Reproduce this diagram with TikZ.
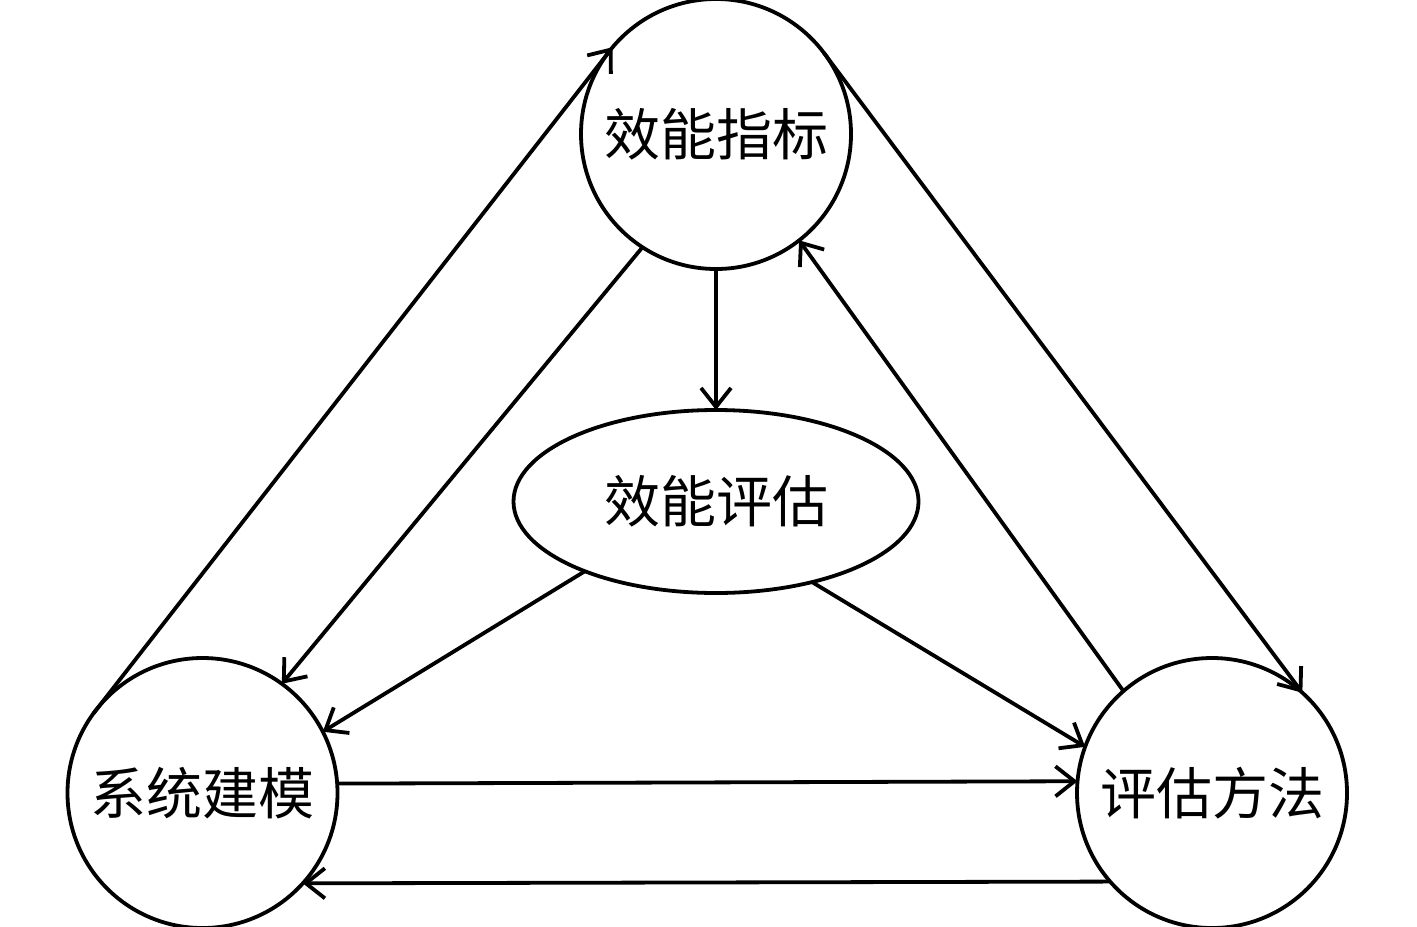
\documentclass[tikz,border=0pt]{standalone}
\usepackage{fontspec}
\newfontfamily\cjk{Noto Sans CJK SC}
\usetikzlibrary{shapes.geometric,arrows.meta}
\begin{document}
\begin{tikzpicture}[x=0.5pt,y=-0.5pt,
  every node/.style={font=\cjk\fontsize{28}{30}\selectfont},
  bubble/.style={circle,draw,line width=1.9pt,inner sep=0pt,outer sep=0pt,minimum size=135pt},
  oval/.style={ellipse,draw,line width=1.9pt,inner sep=0pt,outer sep=0pt,minimum width=202.5pt,minimum height=91.5pt},
  link/.style={line width=1.9pt,-{Straight Barb[length=9.5pt,width=15pt,line width=1.9pt]}}]
\useasboundingbox (0,0) rectangle (1417,926);
\node[bubble] (T) at (716,134) {效能指标};
\node[bubble] (L) at (202.5,793) {系统建模};
\node[bubble] (R) at (1212,793) {评估方法};
\node[oval] (E) at (716,501.5) {效能评估};
\draw[link] (L.144.8) -- (T.140.8);
\draw[link] (T.237) -- (L.54.1);
\draw[link] (T.south) -- (E.north);
\draw[link] (E.208) -- (L.27.6);
\draw[link] (E.320.5) -- (R.160.1);
\draw[link] (T.37) -- (R.48.7);
\draw[link] (R.131.4) -- (T.308.3);
\draw[link] (L.4.66) -- (R.175.34);
\draw[link] (R.221.5) -- (L.318.5);
\end{tikzpicture}
\end{document}
